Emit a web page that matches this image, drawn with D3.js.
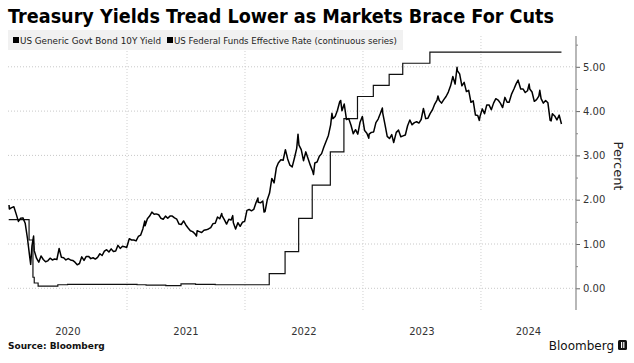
<!DOCTYPE html>
<html>
<head>
<meta charset="utf-8">
<script src="https://cdn.jsdelivr.net/npm/d3@7"></script>
<style>
  body { margin: 0; background: #fff; }
  svg { display: block; font-family: "DejaVu Sans", sans-serif; }
</style>
</head>
<body>
<div id="chart"></div>
<script>
// chart data
const titleText = "Treasury Yields Tread Lower as Markets Brace For Cuts";
const seriesNames = ["US Generic Govt Bond 10Y Yield", "US Federal Funds Effective Rate (continuous series)"];
const yTicks = [0, 1, 2, 3, 4, 5];
const yMinorTicks = [0.5, 1.5, 2.5, 3.5, 4.5, 5.5];
const years = [2020, 2021, 2022, 2023, 2024];

// 10Y yield (approx weekly)
const tsy10y = [
  ["2020-01-02",1.88],["2020-01-03",1.79],["2020-01-10",1.82],["2020-01-17",1.84],["2020-01-24",1.68],["2020-01-31",1.51],
  ["2020-02-07",1.58],["2020-02-14",1.59],["2020-02-21",1.47],["2020-02-28",1.13],["2020-03-06",0.71],["2020-03-09",0.54],
  ["2020-03-13",0.96],["2020-03-18",1.18],["2020-03-20",0.85],["2020-03-27",0.68],["2020-04-03",0.59],["2020-04-10",0.73],
  ["2020-04-17",0.65],["2020-04-24",0.60],["2020-05-01",0.62],["2020-05-08",0.68],["2020-05-15",0.64],["2020-05-22",0.66],
  ["2020-05-29",0.65],["2020-06-05",0.90],["2020-06-12",0.70],["2020-06-19",0.69],["2020-06-26",0.64],["2020-07-03",0.67],
  ["2020-07-10",0.64],["2020-07-17",0.63],["2020-07-24",0.59],["2020-07-31",0.53],["2020-08-07",0.56],["2020-08-14",0.71],
  ["2020-08-21",0.63],["2020-08-28",0.72],["2020-09-04",0.72],["2020-09-11",0.67],["2020-09-18",0.69],["2020-09-25",0.66],
  ["2020-10-02",0.70],["2020-10-09",0.78],["2020-10-16",0.74],["2020-10-23",0.84],["2020-10-30",0.87],["2020-11-06",0.82],
  ["2020-11-13",0.89],["2020-11-20",0.83],["2020-11-27",0.84],["2020-12-04",0.97],["2020-12-11",0.90],["2020-12-18",0.95],
  ["2020-12-24",0.94],["2020-12-31",0.92],
  ["2021-01-08",1.12],["2021-01-15",1.09],["2021-01-22",1.09],["2021-01-29",1.07],["2021-02-05",1.17],["2021-02-12",1.20],
  ["2021-02-19",1.34],["2021-02-25",1.52],["2021-02-26",1.41],["2021-03-05",1.57],["2021-03-12",1.63],["2021-03-19",1.72],
  ["2021-03-26",1.67],["2021-04-01",1.68],["2021-04-09",1.66],["2021-04-16",1.58],["2021-04-23",1.56],["2021-04-30",1.63],
  ["2021-05-07",1.58],["2021-05-14",1.63],["2021-05-21",1.63],["2021-05-28",1.59],["2021-06-04",1.56],["2021-06-11",1.45],
  ["2021-06-18",1.44],["2021-06-25",1.52],["2021-07-02",1.43],["2021-07-09",1.36],["2021-07-16",1.30],["2021-07-23",1.28],
  ["2021-07-30",1.23],["2021-08-04",1.18],["2021-08-06",1.30],["2021-08-13",1.28],["2021-08-20",1.26],["2021-08-27",1.31],
  ["2021-09-03",1.32],["2021-09-10",1.34],["2021-09-17",1.37],["2021-09-24",1.46],["2021-10-01",1.47],["2021-10-08",1.61],
  ["2021-10-15",1.57],["2021-10-21",1.69],["2021-10-22",1.64],["2021-10-29",1.55],["2021-11-05",1.45],["2021-11-12",1.56],
  ["2021-11-19",1.54],["2021-11-24",1.64],["2021-11-26",1.48],["2021-12-03",1.34],["2021-12-10",1.48],["2021-12-17",1.40],
  ["2021-12-24",1.49],["2021-12-31",1.51],
  ["2022-01-07",1.76],["2022-01-14",1.78],["2022-01-21",1.75],["2022-01-28",1.78],["2022-02-04",1.93],["2022-02-10",2.04],
  ["2022-02-11",1.94],["2022-02-18",1.93],["2022-02-25",1.97],["2022-03-01",1.72],["2022-03-04",1.73],["2022-03-11",2.00],
  ["2022-03-18",2.15],["2022-03-25",2.48],["2022-04-01",2.38],["2022-04-08",2.72],["2022-04-14",2.83],["2022-04-22",2.90],
  ["2022-04-29",2.89],["2022-05-06",3.13],["2022-05-13",2.92],["2022-05-20",2.78],["2022-05-27",2.74],["2022-06-03",2.94],
  ["2022-06-10",3.16],["2022-06-14",3.48],["2022-06-17",3.23],["2022-06-24",3.13],["2022-07-01",2.88],["2022-07-08",3.08],
  ["2022-07-15",2.93],["2022-07-22",2.78],["2022-07-29",2.65],["2022-08-01",2.57],["2022-08-05",2.83],["2022-08-12",2.85],
  ["2022-08-19",2.98],["2022-08-26",3.04],["2022-09-02",3.19],["2022-09-09",3.32],["2022-09-16",3.45],["2022-09-23",3.69],
  ["2022-09-27",3.95],["2022-09-30",3.83],["2022-10-07",3.88],["2022-10-14",4.02],["2022-10-21",4.21],["2022-10-24",4.24],
  ["2022-10-28",4.01],["2022-11-04",4.16],["2022-11-11",3.81],["2022-11-18",3.83],["2022-11-25",3.68],["2022-12-02",3.49],
  ["2022-12-09",3.58],["2022-12-16",3.48],["2022-12-23",3.75],["2022-12-30",3.88],
  ["2023-01-06",3.56],["2023-01-13",3.50],["2023-01-19",3.39],["2023-01-20",3.48],["2023-01-27",3.52],["2023-02-03",3.53],
  ["2023-02-10",3.74],["2023-02-17",3.82],["2023-02-24",3.95],["2023-03-02",4.07],["2023-03-03",3.96],["2023-03-10",3.70],
  ["2023-03-17",3.43],["2023-03-24",3.38],["2023-03-31",3.47],["2023-04-06",3.29],["2023-04-14",3.52],["2023-04-21",3.57],
  ["2023-04-28",3.42],["2023-05-05",3.44],["2023-05-12",3.46],["2023-05-19",3.67],["2023-05-26",3.80],["2023-06-02",3.69],
  ["2023-06-09",3.74],["2023-06-16",3.76],["2023-06-23",3.73],["2023-06-30",3.81],["2023-07-07",4.06],["2023-07-14",3.83],
  ["2023-07-21",3.84],["2023-07-28",3.95],["2023-08-04",4.03],["2023-08-11",4.16],["2023-08-18",4.25],["2023-08-21",4.34],
  ["2023-08-25",4.24],["2023-09-01",4.18],["2023-09-08",4.26],["2023-09-15",4.33],["2023-09-22",4.43],["2023-09-29",4.57],
  ["2023-10-06",4.78],["2023-10-13",4.61],["2023-10-19",4.99],["2023-10-20",4.91],["2023-10-27",4.84],["2023-11-03",4.57],
  ["2023-11-10",4.65],["2023-11-17",4.44],["2023-11-24",4.47],["2023-12-01",4.20],["2023-12-08",4.23],["2023-12-15",3.91],
  ["2023-12-22",3.90],["2023-12-27",3.79],["2023-12-29",3.88],
  ["2024-01-05",4.05],["2024-01-12",3.94],["2024-01-19",4.14],["2024-01-26",4.14],["2024-02-02",4.03],["2024-02-09",4.18],
  ["2024-02-16",4.28],["2024-02-23",4.25],["2024-03-01",4.18],["2024-03-08",4.08],["2024-03-15",4.31],["2024-03-22",4.20],
  ["2024-03-28",4.20],["2024-04-05",4.39],["2024-04-12",4.50],["2024-04-19",4.62],["2024-04-25",4.70],["2024-04-26",4.67],
  ["2024-05-03",4.50],["2024-05-10",4.50],["2024-05-17",4.42],["2024-05-24",4.46],["2024-05-29",4.61],["2024-05-31",4.50],
  ["2024-06-07",4.43],["2024-06-14",4.22],["2024-06-21",4.26],["2024-06-28",4.34],["2024-07-01",4.47],["2024-07-05",4.28],
  ["2024-07-12",4.18],["2024-07-19",4.24],["2024-07-26",4.19],["2024-08-02",3.79],["2024-08-05",3.78],["2024-08-09",3.94],
  ["2024-08-16",3.89],["2024-08-23",3.80],["2024-08-30",3.91],["2024-09-06",3.71]
];

// effective fed funds, value from each date on
const fedFunds = [
  ["2020-01-01",1.55],["2020-03-04",1.09],["2020-03-16",0.25],["2020-03-20",0.12],["2020-04-01",0.05],
  ["2020-06-01",0.08],["2020-07-01",0.09],["2021-02-01",0.08],["2021-03-01",0.07],["2021-05-01",0.06],
  ["2021-06-17",0.10],["2021-08-01",0.09],["2021-10-01",0.08],["2022-03-17",0.33],["2022-05-05",0.83],
  ["2022-06-16",1.58],["2022-07-28",2.33],["2022-09-22",3.08],["2022-11-03",3.83],["2022-12-15",4.33],
  ["2023-02-02",4.58],["2023-03-23",4.83],["2023-05-04",5.08],["2023-07-27",5.33],["2024-09-06",5.33]
];

const width = 634;
const height = 363;
const plot = { left: 8.7, right: 576, top: 36, bottom: 310 };

const parseDate = d3.utcParse("%Y-%m-%d");

const svg = d3.select("#chart").append("svg")
  .attr("width", width)
  .attr("height", height)
  .attr("viewBox", [0, 0, width, height]);

const x = d3.scaleUtc()
  .domain([Date.UTC(2020, 0, 1), Date.UTC(2024, 9, 21)])
  .range([plot.left, plot.right]);

const y = d3.scaleLinear()
  .domain([0, 5])
  .range([288.3, 66.8]);

// gridlines
svg.append("g")
  .selectAll("line")
  .data(yTicks)
  .join("line")
  .attr("x1", 8)
  .attr("x2", plot.right)
  .attr("y1", d => y(d))
  .attr("y2", d => y(d))
  .attr("stroke", "#c8c8c8")
  .attr("stroke-dasharray", "1,2");

svg.append("g")
  .selectAll("line")
  .data(years.slice(1))
  .join("line")
  .attr("x1", d => x(Date.UTC(d, 0, 1)))
  .attr("x2", d => x(Date.UTC(d, 0, 1)))
  .attr("y1", plot.top)
  .attr("y2", plot.bottom)
  .attr("stroke", "#d0d0d0")
  .attr("stroke-dasharray", "1,2");

// legend box
const legend = svg.append("g");
legend.append("rect")
  .attr("x", 8)
  .attr("y", 30)
  .attr("width", 395)
  .attr("height", 20)
  .attr("fill", "#efefef")
  .attr("opacity", 0.9);

const legendX = [13, 167];
const legendW = [141, 223];
seriesNames.forEach((name, i) => {
  legend.append("rect")
    .attr("x", legendX[i])
    .attr("y", 37)
    .attr("width", 6)
    .attr("height", 6)
    .attr("fill", "#000");
  legend.append("text")
    .attr("x", legendX[i] + 7)
    .attr("y", 43.5)
    .attr("font-size", 9)
    .attr("fill", "#222")
    .attr("textLength", legendW[i])
    .attr("lengthAdjust", "spacingAndGlyphs")
    .text(name);
});

// lines
const line = d3.line()
  .x(d => x(parseDate(d[0])))
  .y(d => y(d[1]));

svg.append("path")
  .datum(fedFunds)
  .attr("fill", "none")
  .attr("stroke", "#111")
  .attr("stroke-width", 1.2)
  .attr("d", line.curve(d3.curveStepAfter));

svg.append("path")
  .datum(tsy10y)
  .attr("fill", "none")
  .attr("stroke", "#000")
  .attr("stroke-width", 1.5)
  .attr("stroke-linejoin", "round")
  .attr("d", line.curve(d3.curveLinear));

// right axis
const yAxis = svg.append("g")
  .attr("transform", `translate(${plot.right},0)`)
  .call(d3.axisRight(y).tickValues(yTicks).tickFormat(d3.format(".2f")).tickSize(4).tickPadding(3));
yAxis.select(".domain").remove();
yAxis.selectAll("text")
  .attr("font-family", "DejaVu Sans, sans-serif")
  .attr("font-size", 10)
  .attr("fill", "#333");
yAxis.selectAll("line").attr("stroke", "#666");

const yMinor = svg.append("g")
  .attr("transform", `translate(${plot.right},0)`)
  .call(d3.axisRight(y).tickValues(yMinorTicks).tickFormat("").tickSize(2));
yMinor.select(".domain").remove();
yMinor.selectAll("line").attr("stroke", "#888");

svg.append("line")
  .attr("x1", plot.right)
  .attr("x2", plot.right)
  .attr("y1", plot.top)
  .attr("y2", plot.bottom)
  .attr("stroke", "#888")
  .attr("stroke-width", 1.2);

svg.append("text")
  .attr("transform", `translate(614,166) rotate(90)`)
  .attr("text-anchor", "middle")
  .attr("font-size", 13)
  .attr("fill", "#222")
  .text("Percent");

// year labels, centred on the visible part of each year
svg.append("g")
  .selectAll("text")
  .data(years)
  .join("text")
  .attr("x", d => {
    const a = Math.max(x(Date.UTC(d, 0, 1)), plot.left);
    const b = Math.min(x(Date.UTC(d + 1, 0, 1)), plot.right);
    return (a + b) / 2;
  })
  .attr("y", 335)
  .attr("text-anchor", "middle")
  .attr("font-size", 10)
  .attr("fill", "#333")
  .text(d => d);

// title and footer
svg.append("text")
  .attr("x", 8)
  .attr("y", 23)
  .attr("font-size", 20)
  .attr("font-weight", "bold")
  .attr("fill", "#000")
  .attr("textLength", 546)
  .attr("lengthAdjust", "spacingAndGlyphs")
  .text(titleText);

svg.append("text")
  .attr("x", 8)
  .attr("y", 349)
  .attr("font-size", 9)
  .attr("font-weight", "bold")
  .attr("fill", "#111")
  .text("Source: Bloomberg");

svg.append("text")
  .attr("x", 614)
  .attr("y", 350)
  .attr("text-anchor", "end")
  .attr("font-size", 12)
  .attr("fill", "#111")
  .text("Bloomberg");

const logo = svg.append("g").attr("transform", "translate(618,340)");
logo.append("rect").attr("width", 9).attr("height", 10).attr("rx", 1.5).attr("fill", "#111");
logo.append("rect").attr("x", 3).attr("y", 2).attr("width", 1.2).attr("height", 6).attr("fill", "#fff");
logo.append("rect").attr("x", 5.2).attr("y", 2).attr("width", 1.2).attr("height", 6).attr("fill", "#fff");
</script>
</body>
</html>
